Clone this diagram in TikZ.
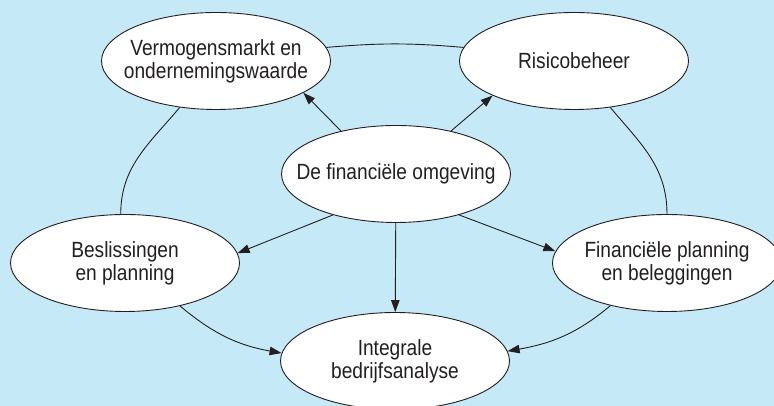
\documentclass[tikz,border=0pt]{standalone}
\usepackage{fontspec}
\setmainfont{Liberation Sans}[FakeStretch=0.87]
\usepackage{xcolor}
\definecolor{bgblue}{RGB}{198,233,248}
\definecolor{ink}{HTML}{231F20}
\usetikzlibrary{shapes.geometric, arrows.meta}

\begin{document}
\begin{tikzpicture}[x=1pt, y=1pt,
  every node/.style={font=\fontsize{22}{23}\selectfont, text=ink},
  topic/.style={ellipse, draw=ink, fill=white, line width=0.9pt,
    minimum width=229pt, minimum height=97pt,
    inner xsep=-20pt, inner ysep=0pt, align=center},
  link/.style={draw=ink, line width=0.9pt},
  flow/.style={link, -{Triangle[length=12pt, width=8.5pt]}}]

  % Background
  \fill[bgblue] (0,0) rectangle (774,406);
  \useasboundingbox (0,0) rectangle (774,406);

  % Ellipses
  \node[topic] (verm)  at (216,345) {Vermogensmarkt en\\ondernemingswaarde};
  \node[topic] (risk)  at (574,345) {Risicobeheer};
  \node[topic] (fenv)  at (396,232) {De financiële omgeving};
  \node[topic] (bes)   at (125,143) {Beslissingen\\en planning};
  \node[topic] (fin)   at (667,143) {Financiële planning\\en beleggingen};
  \node[topic] (integ) at (395,45)  {Integrale\\bedrijfsanalyse};

  % Outer ring
  \draw[link] (verm.7) to[bend left=5] (risk.173);
  \draw[link] (verm.-128) to[out=-130, in=90] (bes.95);
  \draw[link] (risk.-52) to[out=-50, in=90] (fin.north);
  \draw[flow] (bes.-38) to[out=-40, in=170] (integ.176);
  \draw[flow] (fin.-143) to[out=-140, in=10] (integ.5);

  % Arrows from the centre
  \draw[flow] (fenv.142) -- (verm.-20);
  \draw[flow] (fenv.38) -- (risk.-157);
  \draw[flow] (fenv.-147) -- (bes.5);
  \draw[flow] (fenv.-33) -- (fin.174);
  \draw[flow] (fenv) -- (integ);
\end{tikzpicture}
\end{document}
